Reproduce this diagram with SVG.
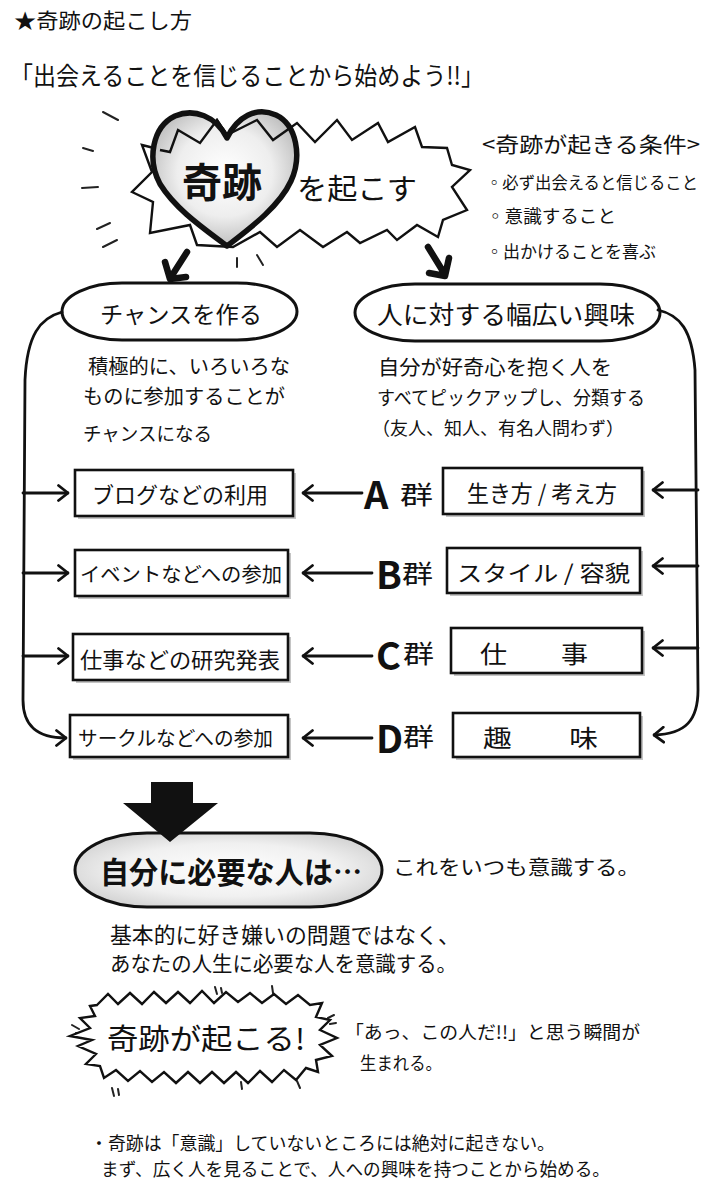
<svg xmlns="http://www.w3.org/2000/svg" width="713" height="1186" viewBox="0 0 713 1186">
<style>
.t{font-family:"Noto Sans CJK JP","Noto Sans CJK SC",sans-serif;fill:#111;dominant-baseline:central}
.b{font-weight:bold}
.ln{fill:none;stroke:#111;stroke-width:2.8;stroke-linecap:round;stroke-linejoin:round}
.box{fill:#fff;stroke:#111;stroke-width:2.6}
.sh{fill:#c4c4c4}
.ray{fill:none;stroke:#222;stroke-width:2;stroke-linecap:round}
.thick{fill:none;stroke:#111;stroke-width:6.5;stroke-linecap:round;stroke-linejoin:round}
</style>
<defs>
<radialGradient id="hg" cx="50%" cy="45%" r="60%">
<stop offset="0" stop-color="#ffffff"/><stop offset="0.55" stop-color="#eeeeee"/><stop offset="1" stop-color="#b5b5b5"/>
</radialGradient>
<radialGradient id="eg" cx="50%" cy="50%" r="60%">
<stop offset="0" stop-color="#ffffff"/><stop offset="0.6" stop-color="#f0f0f0"/><stop offset="1" stop-color="#cfcfcf"/>
</radialGradient>
<marker id="chev" viewBox="0 0 12 18" refX="11" refY="9" markerWidth="12" markerHeight="18" markerUnits="userSpaceOnUse" orient="auto">
<path d="M1.5,1.5 L11,9 L1.5,16.5" fill="none" stroke="#111" stroke-width="2.8" stroke-linecap="round" stroke-linejoin="round"/>
</marker>
</defs>
<rect width="713" height="1186" fill="#fff"/>

<g id="title">
<text class="t" x="14" y="19" font-size="21" textLength="178" lengthAdjust="spacingAndGlyphs">★奇跡の起こし方</text>
<text class="t" x="10" y="74" font-size="25" textLength="474" lengthAdjust="spacingAndGlyphs">「出会えることを信じることから始めよう!!」</text>
</g>

<g id="miracle-heart">
<path class="ray" d="M103,112 L118,120 M83,148 L93,151 M82,188 L98,187 M97,229 L110,223 M103,247 L117,240 M237,258 L237,267 M257,255 L263,265"/>
<polygon fill="#fff" stroke="#111" stroke-width="2.4" stroke-linejoin="miter" points="142,145 170,152 178,130 200,143 217,120 227,135 257,120 273,140 297,123 315,142 337,120 352,140 378,123 388,142 415,127 422,147 447,148 452,165 470,170 452,187 467,210 443,220 438,237 417,225 397,240 387,230 360,243 347,232 323,247 300,230 277,247 260,232 233,247 197,245 190,225 150,233 153,202 132,192 152,172"/>
<path d="M227,138 C216,116 194,108 175,116 C152,127 147,160 160,184 C176,210 206,230 227,246 C249,229 279,207 291,181 C302,157 297,125 276,115 C256,106 237,117 227,138 Z" fill="url(#hg)"/>
<polyline fill="none" stroke="#111" stroke-width="2.4" points="160,150 170,152 178,130 200,143 217,120 227,135 257,120 273,140 290,128"/>
<path d="M227,138 C216,116 194,108 175,116 C152,127 147,160 160,184 C176,210 206,230 227,246 C249,229 279,207 291,181 C302,157 297,125 276,115 C256,106 237,117 227,138 Z" fill="none" stroke="#111" stroke-width="5.5" stroke-linejoin="round"/>
<text class="t b" x="222" y="180" font-size="40" text-anchor="middle">奇跡</text>
<text class="t" x="297" y="187" font-size="29" textLength="120" lengthAdjust="spacingAndGlyphs">を起こす</text>
</g>

<g id="conditions">
<text class="t" x="482" y="143" font-size="21" textLength="218" lengthAdjust="spacingAndGlyphs">&lt;奇跡が起きる条件&gt;</text>
<text class="t" x="486" y="182" font-size="16.5" textLength="212" lengthAdjust="spacingAndGlyphs">◦必ず出会えると信じること</text>
<text class="t" x="486" y="215" font-size="18" textLength="130" lengthAdjust="spacingAndGlyphs">◦意識すること</text>
<text class="t" x="486" y="250" font-size="17.5" textLength="170" lengthAdjust="spacingAndGlyphs">◦出かけることを喜ぶ</text>
</g>

<g id="chance">
<rect x="62" y="283" width="235" height="57" rx="60" ry="28.5" fill="#fff" stroke="#111" stroke-width="3"/>
<text class="t" x="100" y="313" font-size="23" textLength="162" lengthAdjust="spacingAndGlyphs">チャンスを作る</text>
<text class="t" x="88" y="365" font-size="20" textLength="202" lengthAdjust="spacingAndGlyphs">積極的に、いろいろな</text>
<text class="t" x="83" y="395" font-size="20" textLength="202" lengthAdjust="spacingAndGlyphs">ものに参加することが</text>
<text class="t" x="83" y="432" font-size="19" textLength="129" lengthAdjust="spacingAndGlyphs">チャンスになる</text>
</g>

<g id="interest">
<rect x="355" y="284" width="305" height="57" rx="60" ry="28.5" fill="#fff" stroke="#111" stroke-width="3"/>
<text class="t" x="377" y="313" font-size="25" textLength="258" lengthAdjust="spacingAndGlyphs">人に対する幅広い興味</text>
<text class="t" x="378" y="366" font-size="20" textLength="234" lengthAdjust="spacingAndGlyphs">自分が好奇心を抱く人を</text>
<text class="t" x="377" y="396" font-size="19" textLength="268" lengthAdjust="spacingAndGlyphs">すべてピックアップし、分類する</text>
<text class="t" x="372" y="427" font-size="18" textLength="252" lengthAdjust="spacingAndGlyphs">（友人、知人、有名人問わず）</text>
</g>

<g id="left-boxes">
<g id="blog"><rect class="sh" x="78" y="473" width="218" height="46"/><rect class="box" x="75" y="470" width="218" height="46"/>
<text class="t" x="92" y="493" font-size="22" textLength="176" lengthAdjust="spacingAndGlyphs">ブログなどの利用</text></g>
<g id="event"><rect class="sh" x="78" y="553" width="213" height="46"/><rect class="box" x="75" y="550" width="213" height="46"/>
<text class="t" x="80" y="573" font-size="20" textLength="202" lengthAdjust="spacingAndGlyphs">イベントなどへの参加</text></g>
<g id="work"><rect class="sh" x="76" y="637" width="215" height="46"/><rect class="box" x="73" y="634" width="215" height="46"/>
<text class="t" x="80" y="658" font-size="22" textLength="200" lengthAdjust="spacingAndGlyphs">仕事などの研究発表</text></g>
<g id="circle"><rect class="sh" x="73" y="718" width="218" height="42"/><rect class="box" x="70" y="715" width="218" height="42"/>
<text class="t" x="78" y="737" font-size="20" textLength="195" lengthAdjust="spacingAndGlyphs">サークルなどへの参加</text></g>
</g>

<g id="groups">
<g id="grpA"><text class="t b" x="364" y="492" font-size="38">A</text><text class="t" x="400" y="493" font-size="25" textLength="33" lengthAdjust="spacingAndGlyphs">群</text>
<rect class="sh" x="446" y="471" width="199" height="46"/><rect class="box" x="443" y="468" width="199" height="46"/>
<text class="t" x="467" y="492" font-size="23" textLength="150" lengthAdjust="spacingAndGlyphs">生き方 / 考え方</text></g>
<g id="grpB"><text class="t b" x="376" y="572" font-size="38">B</text><text class="t" x="402" y="572" font-size="25" textLength="31" lengthAdjust="spacingAndGlyphs">群</text>
<rect class="sh" x="450" y="551" width="193" height="45"/><rect class="box" x="447" y="548" width="193" height="45"/>
<text class="t" x="457" y="571" font-size="22" textLength="173" lengthAdjust="spacingAndGlyphs">スタイル / 容貌</text></g>
<g id="grpC"><text class="t b" x="376" y="653" font-size="38">C</text><text class="t" x="403" y="652" font-size="25" textLength="31" lengthAdjust="spacingAndGlyphs">群</text>
<rect class="sh" x="454" y="631" width="191" height="45"/><rect class="box" x="451" y="628" width="191" height="45"/>
<text class="t" x="480" y="652" font-size="24" textLength="108" lengthAdjust="spacingAndGlyphs">仕　　事</text></g>
<g id="grpD"><text class="t b" x="376" y="736" font-size="38">D</text><text class="t" x="403" y="735" font-size="25" textLength="31" lengthAdjust="spacingAndGlyphs">群</text>
<rect class="sh" x="456" y="716" width="187" height="44"/><rect class="box" x="453" y="713" width="187" height="44"/>
<text class="t" x="483" y="736" font-size="24" textLength="115" lengthAdjust="spacingAndGlyphs">趣　　味</text></g>
</g>

<g id="connectors">
<path class="thick" d="M187,252 L171,277 M165,262 L170,279 L186,277"/>
<path class="thick" d="M428,247 L444,273 M449,258 L445,276 L429,273"/>
<path class="ln" d="M62,312 C40,318 27,335 25,380 L23,700 C23,725 36,738 66,738" marker-end="url(#chev)"/>
<path class="ln" d="M23,493 L68,493" marker-end="url(#chev)"/>
<path class="ln" d="M23,573 L68,573" marker-end="url(#chev)"/>
<path class="ln" d="M23,656 L68,656" marker-end="url(#chev)"/>
<path class="ln" d="M658,310 C680,315 692,330 695,370 L698,690 C698,720 686,734 654,735" marker-end="url(#chev)"/>
<path class="ln" d="M698,490 L653,490" marker-end="url(#chev)"/>
<path class="ln" d="M698,566 L653,566" marker-end="url(#chev)"/>
<path class="ln" d="M698,648 L653,648" marker-end="url(#chev)"/>
<path class="ln" d="M362,493 L303,493" marker-end="url(#chev)"/>
<path class="ln" d="M372,573 L303,573" marker-end="url(#chev)"/>
<path class="ln" d="M372,656 L303,656" marker-end="url(#chev)"/>
<path class="ln" d="M372,738 L303,738" marker-end="url(#chev)"/>
</g>

<g id="needed">
<rect x="75" y="833" width="307" height="74" rx="72" ry="37" fill="url(#eg)" stroke="#111" stroke-width="3"/>
<polygon fill="#111" points="151,782 193,782 193,803 218,803 170,842 123,803 151,803"/>
<text class="t b" x="100" y="870" font-size="30" textLength="262" lengthAdjust="spacingAndGlyphs">自分に必要な人は…</text>
<text class="t" x="393" y="866" font-size="20" textLength="247" lengthAdjust="spacingAndGlyphs">これをいつも意識する。</text>
<text class="t" x="110" y="933" font-size="22" textLength="350" lengthAdjust="spacingAndGlyphs">基本的に好き嫌いの問題ではなく、</text>
<text class="t" x="110" y="962" font-size="21" textLength="347" lengthAdjust="spacingAndGlyphs">あなたの人生に必要な人を意識する。</text>
</g>

<g id="happens">
<path class="ray" d="M72,1025 L79,1029 M76,1033 L81,1034 M215,987 L217,994 M221,988 L222,993 M272,986 L273,993 M328,1018 L334,1015 M330,1024 L336,1023 M112,1088 L114,1096 M118,1089 L119,1095 M241,1082 L242,1089 M297,1081 L300,1088"/>
<polygon fill="#fff" stroke="#111" stroke-width="2.4" stroke-linejoin="miter" points="97,1005 108,994 118,1004 130,993 142,1004 154,992 166,1003 178,992 190,1003 202,991 214,1003 226,992 238,1002 250,993 262,1003 274,994 286,1004 298,995 310,1005 322,1003 316,1017 330,1020 320,1030 337,1038 320,1045 332,1056 316,1060 318,1072 306,1068 296,1080 284,1070 272,1082 260,1071 248,1083 236,1072 224,1083 212,1072 200,1083 188,1072 176,1083 164,1072 152,1082 140,1071 128,1081 116,1070 104,1078 100,1066 86,1064 96,1054 78,1046 92,1040 70,1036 90,1028 80,1018 95,1016 90,1006"/>
<text class="t" x="107" y="1037" font-size="29" textLength="198" lengthAdjust="spacingAndGlyphs">奇跡が起こる!</text>
<text class="t" x="345" y="1031" font-size="18" textLength="295" lengthAdjust="spacingAndGlyphs">「あっ、この人だ!!」と思う瞬間が</text>
<text class="t" x="360" y="1062" font-size="18" textLength="82" lengthAdjust="spacingAndGlyphs">生まれる。</text>
</g>

<g id="note">
<text class="t" x="90" y="1142" font-size="18" textLength="465" lengthAdjust="spacingAndGlyphs">・奇跡は「意識」していないところには絶対に起きない。</text>
<text class="t" x="101" y="1168" font-size="18" textLength="509" lengthAdjust="spacingAndGlyphs">まず、広く人を見ることで、人への興味を持つことから始める。</text>
</g>
</svg>
